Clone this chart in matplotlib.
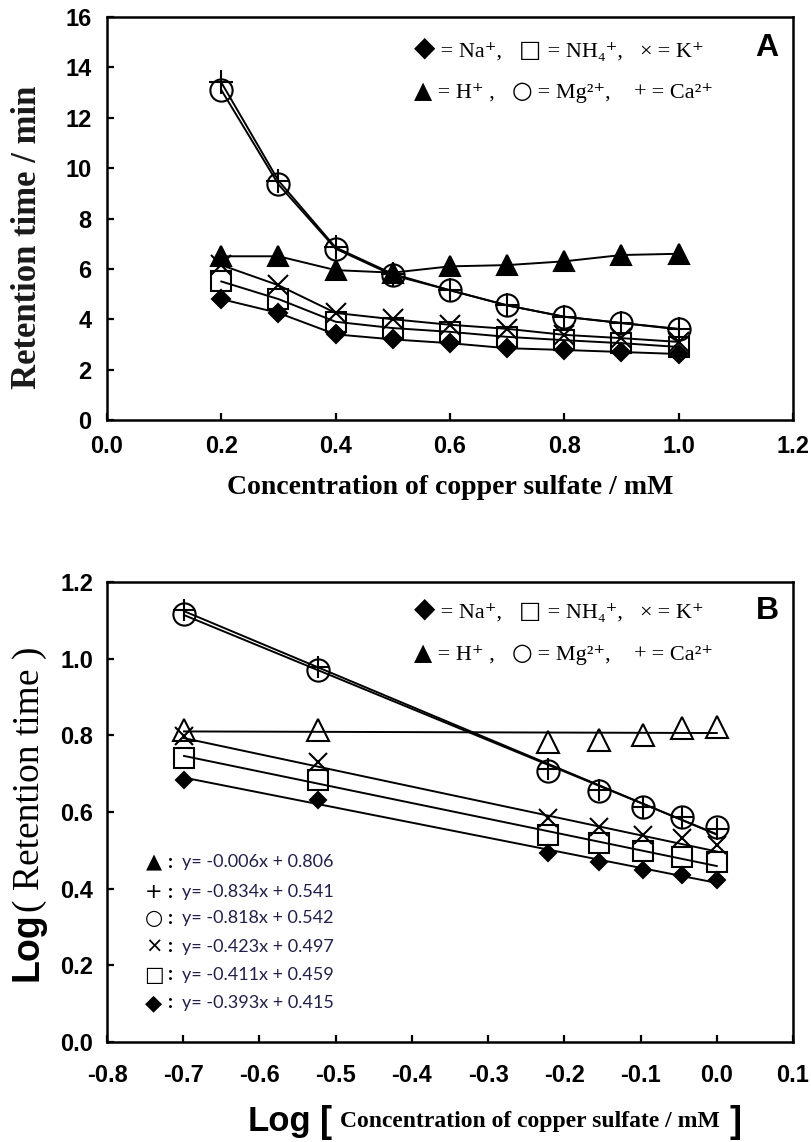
import numpy as np
import matplotlib
matplotlib.use('Agg')
import matplotlib.pyplot as plt

# ---- panel A: retention time vs copper sulfate concentration ----
conc = [0.2, 0.3, 0.4, 0.5, 0.6, 0.7, 0.8, 0.9, 1.0]
rt_na = [4.8, 4.25, 3.4, 3.2, 3.05, 2.85, 2.78, 2.7, 2.62]
rt_nh4 = [5.5, 4.8, 3.9, 3.65, 3.5, 3.3, 3.17, 3.05, 2.9]
rt_k = [6.15, 5.35, 4.25, 4.0, 3.78, 3.62, 3.38, 3.25, 3.1]
rt_h = [6.5, 6.5, 5.95, 5.85, 6.1, 6.15, 6.3, 6.55, 6.6]
rt_mg = [13.1, 9.35, 6.8, 5.75, 5.15, 4.55, 4.1, 3.85, 3.62]
rt_ca = [13.4, 9.5, 6.85, 5.8, 5.15, 4.55, 4.1, 3.85, 3.6]

# ---- panel B: log-log plot with linear fits ----
conc_b = [0.2, 0.3, 0.6, 0.7, 0.8, 0.9, 1.0]
lg_na = [0.684, 0.631, 0.492, 0.470, 0.449, 0.436, 0.423]
lg_nh4 = [0.741, 0.684, 0.540, 0.518, 0.497, 0.483, 0.470]
lg_k = [0.797, 0.731, 0.584, 0.562, 0.540, 0.531, 0.515]
lg_h = [0.815, 0.814, 0.783, 0.788, 0.801, 0.818, 0.823]
lg_mg = [1.117, 0.971, 0.708, 0.656, 0.614, 0.588, 0.560]
lg_ca = [1.127, 0.978, 0.712, 0.658, 0.613, 0.586, 0.556]

fit_names = ['H', 'Ca', 'Mg', 'K', 'NH4', 'Na']
fit_slope = [-0.006, -0.834, -0.818, -0.423, -0.411, -0.393]
fit_icpt = [0.806, 0.541, 0.542, 0.497, 0.459, 0.415]
fit_sym = ['\u25B2', '+', '\u25CB', '\u00D7', '\u25A1', '\u25C6']

W, H = 812, 1142
fig = plt.figure(figsize=(W / 100, H / 100), dpi=100)

def px(x0, y0, x1, y1):
    return [x0 / W, 1 - y1 / H, (x1 - x0) / W, (y1 - y0) / H]

serif = ['Liberation Serif', 'DejaVu Sans']

def style_axes(ax, xpad, ypad):
    for s in ax.spines.values():
        s.set_linewidth(1.8)
    ax.tick_params(direction='in', length=5, width=1.6, top=False, right=False)
    ax.tick_params(axis='x', pad=xpad)
    ax.tick_params(axis='y', pad=ypad)
    for lab in ax.get_xticklabels() + ax.get_yticklabels():
        lab.set_family('Liberation Sans')
        lab.set_fontweight('bold')
        lab.set_fontsize(17)

def chain(ax, x, y, pieces):
    # lay text pieces left to right, each starting where the previous one ends
    s, kw = pieces[0]
    prev = fig.text(x / W, 1 - y / H, s, ha='left', va='bottom', **kw)
    for s, kw in pieces[1:]:
        prev = ax.annotate(s, xy=(1, 0), xycoords=prev, ha='left', va='bottom',
                           annotation_clip=False, **kw)

sym = dict(family=['DejaVu Sans'], fontsize=17)
dia = dict(family=['DejaVu Sans'], fontsize=20)
txt = dict(family=serif, fontsize=16)

def ion_legend(ax, y1, y2):
    chain(ax, 414, y1, [('\u25C6', dia), (' = Na\u207A,   ', txt), ('\u25A1', sym),
                        (' = NH\u2084\u207A,   ', txt), ('\u00D7', txt), (' = K\u207A', txt)])
    chain(ax, 414, y2, [('\u25B2', sym), (' = H\u207A ,   ', txt), ('\u25CB', sym),
                        (' = Mg\u00B2\u207A,    ', txt), ('+', txt), (' = Ca\u00B2\u207A', txt)])

mk = dict(color='black', mec='black', mew=1.5, lw=1.4)

# ---------------- panel A ----------------
ax1 = fig.add_axes(px(107, 17, 793, 420))
ax1.plot(conc, rt_na, marker='D', ms=9, mfc='black', **mk)
ax1.plot(conc, rt_nh4, marker='s', ms=14, mfc='none', **mk)
ax1.plot(conc, rt_k, marker='x', ms=15, **mk)
ax1.plot(conc, rt_h, marker='^', ms=14, mfc='black', **mk)
ax1.plot(conc, rt_mg, marker='o', ms=16, mfc='none', **mk)
ax1.plot(conc, rt_ca, marker='+', ms=17, **mk)
ax1.set_xlim(0, 1.2)
ax1.set_ylim(0, 16)
ax1.set_xticks(np.arange(0, 1.21, 0.2))
ax1.set_xticklabels([f'{v:.1f}' for v in np.arange(0, 1.21, 0.2)])
ax1.set_yticks(np.arange(0, 17, 2))
ax1.set_yticklabels([str(v) for v in range(0, 17, 2)])
style_axes(ax1, 11, 11)

ion_legend(ax1, 62, 103)
fig.text(767 / W, 1 - 48 / H, 'A', family='Liberation Sans', weight='bold', fontsize=23,
         ha='center', va='center')

fig.text(28 / W, 1 - 237 / H, 'Retention time / min', rotation=90, family=serif,
         weight='bold', fontsize=25, ha='center', va='center', color='#1a1a1a')
fig.text(450 / W, 1 - 488 / H, 'Concentration of copper sulfate / mM', family=serif,
         weight='bold', fontsize=20, ha='center', va='center')

# ---------------- panel B ----------------
ax2 = fig.add_axes(px(107, 582, 793, 1042))
log_conc = np.log10(conc_b)
xfit = np.array([log_conc.min(), log_conc.max()])
for a, b in zip(fit_slope, fit_icpt):
    ax2.plot(xfit, a * xfit + b, color='black', lw=1.4)
pt = dict(ls='none', color='black', mec='black', mew=1.5)
ax2.plot(log_conc, lg_na, marker='D', ms=8.5, mfc='black', **pt)
ax2.plot(log_conc, lg_nh4, marker='s', ms=14, mfc='none', **pt)
ax2.plot(log_conc, lg_k, marker='x', ms=13, **pt)
ax2.plot(log_conc, lg_h, marker='^', ms=16, mfc='none', **pt)
ax2.plot(log_conc, lg_mg, marker='o', ms=16, mfc='none', **pt)
ax2.plot(log_conc, lg_ca, marker='+', ms=16, **pt)
ax2.set_xlim(-0.8, 0.1)
ax2.set_ylim(0, 1.2)
xt = np.round(np.arange(-0.8, 0.11, 0.1), 1)
ax2.set_xticks(xt)
ax2.set_xticklabels([f'{v:.1f}' if v != 0 else '0.0' for v in xt])
yt = np.round(np.arange(0, 1.21, 0.2), 1)
ax2.set_yticks(yt)
ax2.set_yticklabels([f'{v:.1f}' for v in yt])
style_axes(ax2, 16, 10)

ion_legend(ax2, 623, 665)
fig.text(767 / W, 1 - 611 / H, 'B', family='Liberation Sans', weight='bold', fontsize=23,
         ha='center', va='center')

eq_y = [862, 892, 918, 947, 975, 1003]
for yy, s, a, b in zip(eq_y, fit_sym, fit_slope, fit_icpt):
    fig.text(154 / W, 1 - yy / H, s, family=['DejaVu Sans'], fontsize=16 if s == '\u25C6' else 15,
             ha='center', va='center')
    fig.text(168 / W, 1 - yy / H, ':', family='Lato', weight='bold', fontsize=14,
             ha='left', va='center')
    fig.text(182 / W, 1 - yy / H, f'y= {a:.3f}x + {b:.3f}', family='Lato', fontsize=13,
             ha='left', va='center', color='#20204a')

# y label of panel B, two fonts
fig.text(28 / W, 1 - 981 / H, 'Log', rotation=90, family='Liberation Sans', weight='bold',
         fontsize=27, ha='center', va='bottom')
fig.text(30 / W, 1 - 912 / H, '( Retention time )', rotation=90, family=serif,
         fontsize=27, ha='center', va='bottom')

# x label of panel B, two fonts
fig.text(248 / W, 1 - 1122 / H, 'Log', family='Liberation Sans', weight='bold',
         fontsize=25, ha='left', va='center')
fig.text(320 / W, 1 - 1122 / H, '[', family='Liberation Sans', weight='bold',
         fontsize=26, ha='left', va='center')
fig.text(340 / W, 1 - 1122 / H, 'Concentration of copper sulfate / mM', family=serif,
         weight='bold', fontsize=17, ha='left', va='center')
fig.text(730 / W, 1 - 1122 / H, ']', family='Liberation Sans', weight='bold',
         fontsize=26, ha='left', va='center')

fig.savefig('out.png', dpi=100)
